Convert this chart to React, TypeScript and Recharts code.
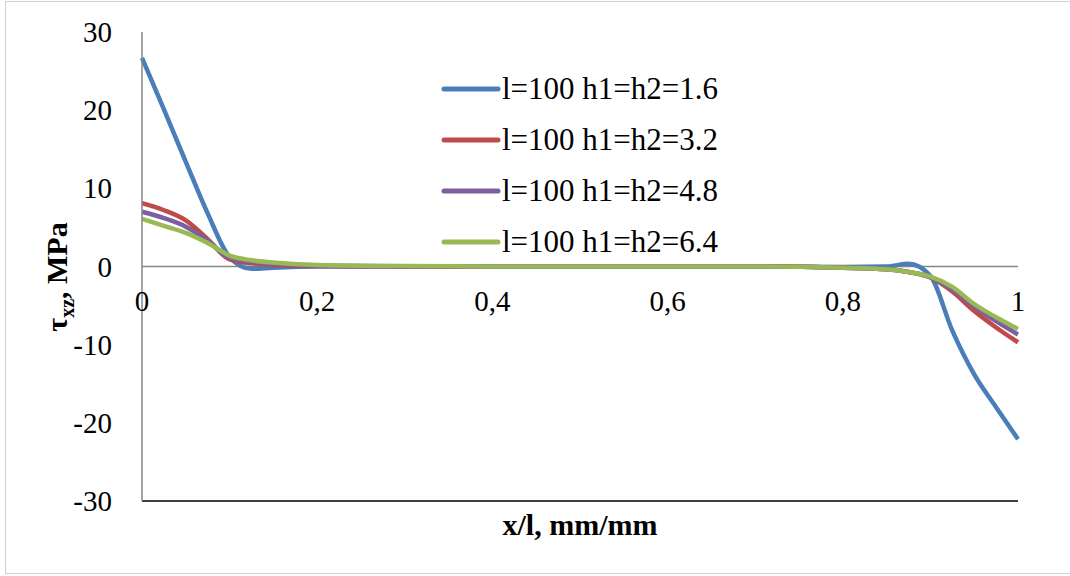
import { LineChart, Line, XAxis, YAxis, ReferenceLine, Legend } from 'recharts';

const xs = [0, 0.025, 0.05, 0.075, 0.1, 0.125, 0.15, 0.2, 0.3, 0.4, 0.5, 0.6, 0.7, 0.8, 0.85, 0.875, 0.9, 0.925, 0.95, 0.975, 1];
const h16 = [26.7, 20.1, 13.4, 6.8, 1.2, -0.3, -0.15, 0, 0, 0, 0, 0, 0, -0.05, 0, 0.35, -1.2, -8.2, -13.8, -18.0, -22.1];
const h32 = [8.1, 7.2, 5.9, 3.5, 0.9, 0.4, 0.2, 0.05, 0, 0, 0, 0, 0, -0.15, -0.35, -0.7, -1.4, -3.2, -5.7, -7.8, -9.7];
const h48 = [7.0, 6.2, 5.1, 3.3, 1.1, 0.6, 0.35, 0.1, 0.02, 0, 0, 0, 0, -0.15, -0.35, -0.7, -1.35, -2.9, -5.1, -7.0, -8.7];
const h64 = [6.1, 5.2, 4.3, 3.0, 1.4, 0.8, 0.5, 0.2, 0.05, 0, 0, 0, 0, -0.15, -0.35, -0.7, -1.3, -2.6, -4.8, -6.5, -8.0];

const xTicks = [0, 0.2, 0.4, 0.6, 0.8, 1];
const yTicks = [-30, -20, -10, 0, 10, 20, 30];

const series = [
  { key: 'h16', name: 'l=100 h1=h2=1.6', color: '#4a7ebb', values: h16 },
  { key: 'h32', name: 'l=100 h1=h2=3.2', color: '#be4b48', values: h32 },
  { key: 'h48', name: 'l=100 h1=h2=4.8', color: '#7d5fa0', values: h48 },
  { key: 'h64', name: 'l=100 h1=h2=6.4', color: '#98b954', values: h64 },
];

const data = xs.map((x, i) => {
  const row: Record<string, number> = { x };
  series.forEach((s) => (row[s.key] = s.values[i]));
  return row;
});

const FONT = "'Times New Roman', Times, 'Liberation Serif', 'DejaVu Serif', serif";
const W = 1070;
const H = 576;
const PLOT_TOP = 32;
const PLOT_BOTTOM = 502;
// x labels sit under the zero line, not under the frame
const ZERO_Y = PLOT_TOP + (PLOT_BOTTOM - PLOT_TOP) / 2;
const X_LABEL_SHIFT = PLOT_BOTTOM - ZERO_Y - 35;

const fmtX = (v: number) => String(v).replace('.', ',');

function XTick(props: any) {
  const { x, y, payload } = props;
  return (
    <text x={x} y={y - X_LABEL_SHIFT} textAnchor="middle" dominantBaseline="central" style={{ fontFamily: FONT }} fontSize={29} fill="#000">
      {fmtX(payload.value)}
    </text>
  );
}

function YTick(props: any) {
  const { x, y, payload } = props;
  return (
    <text x={x} y={y} textAnchor="end" dominantBaseline="central" style={{ fontFamily: FONT }} fontSize={29} fill="#000">
      {payload.value}
    </text>
  );
}

function YLabel() {
  return (
    <text transform="translate(67,277) rotate(-90)" textAnchor="middle" style={{ fontFamily: FONT }} fontSize={30} fontWeight="bold" fill="#000">
      τ<tspan fontSize={20} dy={7}>xz</tspan>
      <tspan dy={-7}>, MPa</tspan>
    </text>
  );
}

function LegendBox() {
  return (
    <div style={{ fontFamily: FONT, fontSize: 31, color: '#000' }}>
      {series.map((s) => (
        <div key={s.key} style={{ display: 'flex', alignItems: 'center', height: 51 }}>
          <svg width={60} height={10} style={{ marginRight: 1 }}>
            <line x1={3} y1={5} x2={57} y2={5} stroke={s.color} strokeWidth={5} strokeLinecap="round" />
          </svg>
          <span style={{ lineHeight: '51px', whiteSpace: 'nowrap' }}>{s.name}</span>
        </div>
      ))}
    </div>
  );
}

export default function App() {
  return (
    <div style={{ position: 'relative', width: W, height: H, background: '#fff', overflow: 'hidden', fontFamily: FONT }}>
      <style>{'body{margin:0}'}</style>
      <div style={{ position: 'absolute', left: 5, top: 1, width: W, height: H - 3, border: '1px solid #d0d0d0', boxSizing: 'border-box' }} />
      <LineChart width={W} height={H} data={data} margin={{ top: PLOT_TOP, right: 52, bottom: H - PLOT_BOTTOM, left: 82 }} style={{ fontFamily: FONT }}>
        <XAxis
          dataKey="x"
          type="number"
          domain={[0, 1]}
          ticks={xTicks}
          tickLine={false}
          tickSize={0}
          tickMargin={0}
          height={1}
          axisLine={{ stroke: '#000', strokeWidth: 1.5 }}
          tick={<XTick />}
          interval={0}
        />
        <XAxis xAxisId="top" orientation="top" dataKey="x" type="number" domain={[0, 1]} height={0} tick={false} tickLine={false} axisLine={{ stroke: '#000', strokeWidth: 1.5 }} />
        <YAxis
          type="number"
          domain={[-30, 30]}
          ticks={yTicks}
          width={60}
          tickLine={false}
          tickSize={0}
          tickMargin={30}
          axisLine={{ stroke: '#868686', strokeWidth: 1.5 }}
          tick={<YTick />}
          interval={0}
          label={<YLabel />}
        />
        <YAxis yAxisId="right" orientation="right" domain={[-30, 30]} width={0} tick={false} tickLine={false} axisLine={{ stroke: '#000', strokeWidth: 1.5 }} />
        <ReferenceLine y={0} stroke="#868686" strokeWidth={1.5} />
        {series.map((s) => (
          <Line
            key={s.key}
            type="monotone"
            dataKey={s.key}
            name={s.name}
            stroke={s.color}
            strokeWidth={4.5}
            dot={false}
            isAnimationActive={false}
          />
        ))}
        <Legend
          layout="vertical"
          align="center"
          verticalAlign="middle"
          content={<LegendBox />}
          wrapperStyle={{ left: 441, top: 63, width: 320 }}
        />
      </LineChart>
      <div style={{ position: 'absolute', left: 0, width: W - 52 + 142, top: 508, textAlign: 'center', fontFamily: FONT, fontSize: 30, fontWeight: 'bold', color: '#000' }}>
        x/l, mm/mm
      </div>
    </div>
  );
}
